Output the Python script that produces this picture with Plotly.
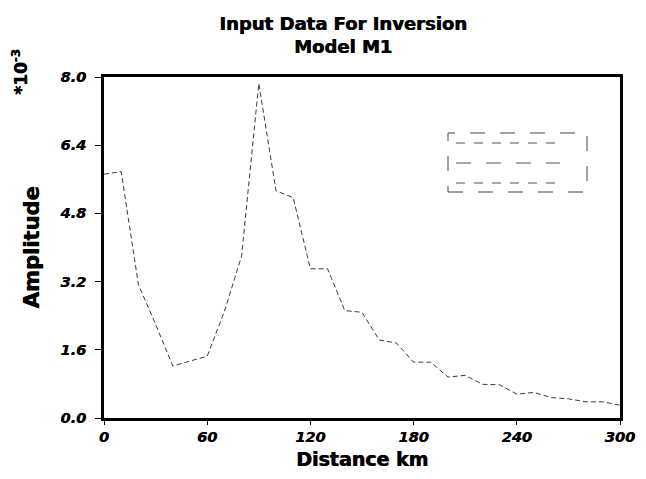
import plotly.graph_objects as go

distance_km = [0, 10, 20, 30, 40, 50, 60, 70, 80, 90, 100, 110, 120, 130, 140, 150,
               160, 170, 180, 190, 200, 210, 220, 230, 240, 250, 260, 270, 280, 290, 300]
amplitude_e3 = [5.72, 5.78, 3.13, 2.2, 1.22, 1.33, 1.45, 2.5, 3.8, 7.85, 5.33, 5.17,
                3.5, 3.5, 2.52, 2.48, 1.83, 1.76, 1.31, 1.31, 0.96, 1.0, 0.79, 0.78,
                0.56, 0.6, 0.48, 0.45, 0.38, 0.38, 0.3]
x_ticks = [0, 60, 120, 180, 240, 300]
y_ticks = [0.0, 1.6, 3.2, 4.8, 6.4, 8.0]

FONT = "DejaVu Sans"
HEAVY = "0.7px 0px 0px black"

# page body has an 8px margin, so the figure is offset by (8, 8)
W, H = 630, 463
L, T, R, B = 96, 69, 18, 53

fig = go.Figure()
fig.add_trace(go.Scatter(
    x=distance_km, y=amplitude_e3, mode="lines",
    line=dict(color="#3a3a3a", width=1, dash="5px,3px"),
    showlegend=False, hoverinfo="x+y"))

axis_common = dict(
    automargin=False,
    showgrid=False, zeroline=False, showline=True, linecolor="black", linewidth=3,
    mirror=True, ticks="outside", tickwidth=1, tickcolor="black",
    tickfont=dict(family=FONT, size=14.5, color="black", weight="bold", style="italic",
                  shadow="0.4px 0px 0px black"),
)

fig.update_layout(
    width=W, height=H,
    margin=dict(l=L, r=R, t=T, b=B, autoexpand=False),
    paper_bgcolor="white", plot_bgcolor="white",
    title=dict(text="Input Data For Inversion<br>Model M1", x=(343 - 8) / W, xanchor="center",
               y=1 - 22 / H, yanchor="middle",
               font=dict(family=FONT, size=18, color="black", weight="bold", shadow=HEAVY)),
    xaxis=dict(range=[0, 300], tickvals=x_ticks, ticktext=[str(v) for v in x_ticks],
               ticklen=4, **axis_common),
    yaxis=dict(range=[0, 8], tickvals=y_ticks, ticktext=[f"{v:.1f}" for v in y_ticks],
               ticklen=6, ticklabelstandoff=6,
               title=dict(text="Amplitude", standoff=15,
                          font=dict(family=FONT, size=21, color="black", weight="bold",
                                    shadow=HEAVY)),
               **axis_common),
)

# x-axis title
fig.add_annotation(text="Distance km", xref="paper", yref="paper",
                   x=0.5, y=(418 - 459) / 341, xanchor="center", yanchor="middle",
                   showarrow=False,
                   font=dict(family=FONT, size=19, color="black", weight="bold", shadow=HEAVY))

fig.add_annotation(text="*10<sup>-3</sup>", xref="paper", yref="paper",
                   x=(20 - 104) / 516, y=(418 - 72) / 341, xanchor="center", yanchor="middle",
                   textangle=-90, showarrow=False,
                   font=dict(family=FONT, size=17, color="black", weight="bold", shadow=HEAVY))

# legend-like box (decoration)
bx0, bx1 = (448 - 104) / 516, (587 - 104) / 516
by0, by1 = (418 - 192) / 341, (418 - 133) / 341
fig.add_shape(type="rect", xref="paper", yref="paper", x0=bx0, x1=bx1, y0=by0, y1=by1,
              line=dict(color="#444", width=1, dash="longdash"))
for yy, dash in [(143, "dash"), (163, "longdash"), (183, "dash")]:
    fig.add_shape(type="line", xref="paper", yref="paper",
                  x0=(456 - 104) / 516, x1=(560 - 104) / 516,
                  y0=(418 - yy) / 341, y1=(418 - yy) / 341,
                  line=dict(color="#555", width=1, dash=dash))

fig.write_html("out.html")
